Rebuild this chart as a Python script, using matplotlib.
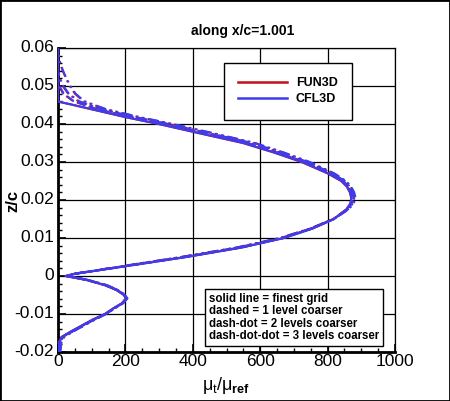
import matplotlib
matplotlib.use("Agg")
import matplotlib.pyplot as plt
from matplotlib.patches import Rectangle
from matplotlib.ticker import MultipleLocator
from matplotlib.lines import Line2D

plt.rcParams['font.family'] = ['Liberation Sans', 'DejaVu Sans']
plt.rcParams['mathtext.fontset'] = 'custom'
plt.rcParams['mathtext.rm'] = 'Liberation Sans'
plt.rcParams['mathtext.it'] = 'Liberation Sans'
plt.rcParams['mathtext.bf'] = 'Liberation Sans:bold'

# ---- data ----
z_fine = [-0.020, -0.0175, -0.016, -0.0147, -0.0133, -0.0116, -0.010, -0.0085, -0.0072, -0.0059,
          -0.005, -0.0037, -0.0024, -0.00105, 0.0, 0.0005, 0.001, 0.0025, 0.005,
          0.0075, 0.010, 0.0125, 0.015, 0.0175, 0.019, 0.0205, 0.022, 0.0235, 0.025,
          0.027, 0.030, 0.0325, 0.035, 0.0375, 0.040, 0.0418, 0.0439, 0.0452, 0.0459,
          0.050, 0.060]
fun3d_fine = [0, 2, 11, 36, 65, 100, 139, 164, 189, 201,
              195, 173, 138, 84, 22, 45, 82, 195, 380,
              545, 670, 755, 818, 855, 867, 870, 866, 857, 840,
              800, 722, 640, 548, 422, 298, 200, 98, 35, 0,
              0, 0]
cfl3d_fine = [0, 3, 12, 37, 66, 101, 140, 165, 190, 202,
              196, 174, 139, 85, 23, 46, 83, 196, 381,
              546, 671, 756, 819, 856, 868, 871, 867, 858, 842,
              802, 725, 643, 551, 425, 300, 202, 100, 37, 0,
              0, 0]

z_l1 = [-0.020, -0.0175, -0.016, -0.0147, -0.0133, -0.0116, -0.010, -0.0085, -0.0072, -0.0059,
        -0.005, -0.0037, -0.0024, -0.00105, 0.0, 0.0005, 0.001, 0.0025, 0.005,
        0.0075, 0.010, 0.0125, 0.015, 0.0175, 0.019, 0.0205, 0.022, 0.0235, 0.025,
        0.027, 0.030, 0.0325, 0.035, 0.0375, 0.040, 0.0418, 0.0439, 0.046, 0.048,
        0.050, 0.052, 0.060]
fun3d_l1 = [2, 5, 14, 38, 67, 102, 140, 166, 190, 203,
            197, 175, 140, 86, 24, 44, 80, 192, 375,
            540, 666, 752, 817, 856, 869, 873, 869, 860, 845,
            806, 730, 650, 560, 436, 312, 215, 115, 45, 15,
            3, 0, 0]
cfl3d_l1 = [3, 6, 15, 39, 68, 103, 141, 167, 191, 204,
            198, 176, 141, 87, 25, 45, 81, 193, 377,
            542, 668, 754, 819, 858, 871, 875, 871, 862, 847,
            808, 732, 652, 562, 438, 314, 217, 117, 47, 17,
            4, 0, 0]

z_l2 = [-0.020, -0.0175, -0.016, -0.0147, -0.0133, -0.0116, -0.010, -0.0085, -0.0072, -0.0059,
        -0.005, -0.0037, -0.0024, -0.00105, 0.0, 0.0005, 0.001, 0.0025, 0.005,
        0.0075, 0.010, 0.0125, 0.015, 0.0175, 0.019, 0.0205, 0.022, 0.0235, 0.025,
        0.027, 0.030, 0.0325, 0.035, 0.0375, 0.040, 0.0418, 0.0439, 0.046, 0.048,
        0.050, 0.052, 0.054, 0.060]
fun3d_l2 = [4, 7, 16, 40, 69, 104, 141, 167, 191, 204,
            198, 176, 142, 88, 26, 43, 78, 188, 370,
            535, 662, 750, 817, 858, 872, 877, 873, 864, 849,
            812, 738, 660, 572, 450, 325, 228, 125, 60, 30,
            14, 5, 0, 0]
cfl3d_l2 = [5, 8, 17, 41, 70, 105, 142, 168, 192, 205,
            199, 177, 143, 89, 27, 44, 79, 190, 372,
            537, 664, 752, 819, 860, 874, 879, 875, 866, 851,
            814, 740, 662, 575, 453, 328, 230, 128, 62, 32,
            16, 6, 0, 0]

z_l3 = [-0.020, -0.0175, -0.016, -0.0147, -0.0133, -0.0116, -0.010, -0.0085, -0.0072, -0.0059,
        -0.005, -0.0037, -0.0024, -0.00105, 0.0, 0.0005, 0.001, 0.0025, 0.005,
        0.0075, 0.010, 0.0125, 0.015, 0.0175, 0.019, 0.0205, 0.022, 0.0235, 0.025,
        0.027, 0.030, 0.0325, 0.035, 0.0375, 0.040, 0.0418, 0.0439, 0.046, 0.048,
        0.050, 0.052, 0.054, 0.056, 0.058, 0.060]
fun3d_l3 = [6, 9, 18, 42, 71, 106, 142, 168, 192, 205,
            199, 177, 144, 90, 28, 42, 76, 184, 365,
            530, 658, 748, 817, 860, 875, 881, 877, 868, 853,
            818, 745, 668, 582, 462, 338, 240, 140, 75, 50,
            35, 24, 14, 6, 1, 0]
cfl3d_l3 = [7, 10, 19, 43, 72, 107, 143, 169, 193, 206,
            200, 178, 145, 91, 29, 43, 77, 186, 367,
            532, 660, 750, 819, 862, 877, 883, 879, 870, 855,
            820, 747, 670, 585, 465, 341, 243, 143, 78, 52,
            37, 25, 15, 7, 2, 0]

red = '#c0101c'
blue = '#3c3cf0'

fig = plt.figure(figsize=(4.5, 4.01), dpi=100)
ax = fig.add_axes([58/450, 1-352/401, (395-58)/450, (352-48)/401])

styles = ['-', (0, (4, 2)), (0, (5, 2, 1, 2)), (0, (5, 2, 1, 2, 1, 2))]
zs = [z_fine, z_l1, z_l2, z_l3]
funs = [fun3d_fine, fun3d_l1, fun3d_l2, fun3d_l3]
cfls = [cfl3d_fine, cfl3d_l1, cfl3d_l2, cfl3d_l3]

for z, m, ls in zip(zs[::-1], funs[::-1], styles[::-1]):
    ax.plot(m, z, color=red, lw=1.5, ls=ls, zorder=3)
for z, m, ls in zip(zs[::-1], cfls[::-1], styles[::-1]):
    ax.plot(m, z, color=blue, lw=1.5, ls=ls, zorder=4)

ax.set_xlim(0, 1000)
ax.set_ylim(-0.02, 0.06)
ax.xaxis.set_major_locator(MultipleLocator(200))
ax.xaxis.set_minor_locator(MultipleLocator(50))
ax.yaxis.set_major_locator(MultipleLocator(0.01))
ax.yaxis.set_minor_locator(MultipleLocator(0.002))
ax.set_xticklabels([])
ax.set_yticklabels([])
ax.tick_params(which='both', direction='in', top=False, right=False, color='black')
ax.tick_params(which='major', length=6, width=1.2)
ax.tick_params(which='minor', length=3, width=1.0)
ax.grid(True, which='major', color='black', lw=0.9)
ax.set_axisbelow(True)
ax.spines['left'].set_linewidth(2)
ax.spines['bottom'].set_linewidth(2)
ax.spines['top'].set_linewidth(0.9)
ax.spines['right'].set_linewidth(0.9)

xt = [0, 200, 400, 600, 800, 1000]
for v in xt:
    ax.text(v, -0.0205, str(v), ha='center', va='top', fontsize=12.5, clip_on=False)
ytl = ['-0.02', '-0.01', '0', '0.01', '0.02', '0.03', '0.04', '0.05', '0.06']
yv = [-0.02, -0.01, 0, 0.01, 0.02, 0.03, 0.04, 0.05, 0.06]
for v, t in zip(yv, ytl):
    ax.text(-12, v, t, ha='right', va='center', fontsize=12.5, clip_on=False)

fig.text(243/450, 1-31/401, 'along x/c=1.001', ha='center', va='center', fontsize=10, fontweight='bold')
fig.text(13/450, 1-201/401, 'z/c', ha='center', va='center', rotation=90, fontsize=12, fontweight='bold')
fig.text(226/450, 1-385/401, r'$\mu_t/\mu_{\mathbf{ref}}$', ha='center', va='center', fontsize=13)

leg = ax.legend([Line2D([], [], color=red, lw=1.8), Line2D([], [], color=blue, lw=1.8)],
                ['FUN3D', 'CFL3D'], loc='upper left', bbox_to_anchor=((224-58)/337, (352-63)/304),
                frameon=True, fancybox=False, edgecolor='black', framealpha=1,
                prop={'weight': 'bold', 'size': 9}, handlelength=3.9, handletextpad=0.7,
                borderpad=1.15, labelspacing=0.3, borderaxespad=0)
leg.get_frame().set_linewidth(1.0)
leg.set_zorder(10)

ax.text((209-58)/337, (352-293)/304,
        'solid line = finest grid\ndashed = 1 level coarser\ndash-dot = 2 levels coarser\ndash-dot-dot = 3 levels coarser',
        transform=ax.transAxes, ha='left', va='top', fontsize=8.3, fontweight='bold',
        linespacing=1.05, zorder=10,
        bbox=dict(boxstyle='square,pad=0.35', fc='white', ec='black', lw=1.0))

fig.patches.append(Rectangle((0, 0), 1, 1, transform=fig.transFigure, fill=False,
                             ec='black', lw=2))

fig.savefig('out.png', dpi=100)
